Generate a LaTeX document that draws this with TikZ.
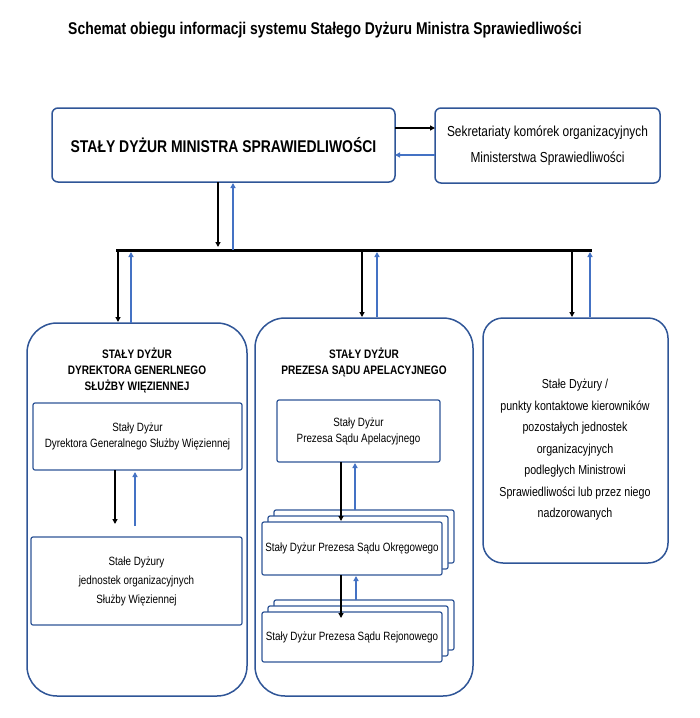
\documentclass[tikz,border=0pt]{standalone}
\usepackage{fontspec}
\setmainfont{Liberation Sans}
\usetikzlibrary{arrows.meta}
\definecolor{bl}{HTML}{2F5597}
\definecolor{ab}{HTML}{4472C4}
\begin{document}
\begin{tikzpicture}[x=1pt,y=-1pt,
 box/.style={draw=bl,line width=1.5pt,fill=white,rounded corners=#1,align=center},
 box/.default=6pt,
 ib/.style={draw=bl,line width=1.2pt,fill=white,rounded corners=2pt,align=center},
 ka/.style={-{Triangle[length=5pt,width=5pt]},line width=1.3pt,black},
 ba/.style={-{Triangle[length=5pt,width=5pt]},line width=1.3pt,ab},
 txt/.style={font=\fontsize{12}{16}\selectfont\addfontfeature{FakeStretch=0.82}},
 tb/.style={font=\bfseries\fontsize{12.3}{16}\selectfont\addfontfeature{FakeStretch=0.82}}]
\useasboundingbox (0,0) rectangle (700,718);
\node[font=\bfseries\fontsize{17}{19}\selectfont\addfontfeature{FakeStretch=0.82}] (title) at (325,30) {Schemat obiegu informacji systemu Stałego Dyżuru Ministra Sprawiedliwości};
% main
\node[box,minimum width=343,minimum height=74,font=\bfseries\fontsize{17}{19}\selectfont\addfontfeature{FakeStretch=0.82}] (main) at (223.5,145) {STAŁY DYŻUR MINISTRA SPRAWIEDLIWOŚCI};
\node[box,minimum width=225,minimum height=75,font=\fontsize{14.5}{26}\selectfont\addfontfeature{FakeStretch=0.82}] (sek) at (547.5,145.5) {Sekretariaty komórek organizacyjnych\\Ministerstwa Sprawiedliwości};
\draw[ka] (395,128) -- (435,128);
\draw[ba] (435,155) -- (395,155);
% bus
\coordinate (busL) at (116,250); \coordinate (busR) at (592,250);
\draw[line width=3pt] (busL) -- (busR);
\draw[ka] (218,182) -- (218,247);
\draw[ba] (233,250) -- (233,183);
% big boxes
\node[box=30pt,minimum width=220,minimum height=373] (L) at (137,509.5) {};
\node[box=30pt,minimum width=218,minimum height=378] (M) at (364,507) {};
\node[box=20pt,minimum width=185,minimum height=245] (R) at (575.5,440.5) {};
\draw[ka] (118,249) -- (118,322);
\draw[ba] (131,323) -- (131,252);
\draw[ka] (362,249) -- (362,317);
\draw[ba] (377,317) -- (377,252);
\draw[ka] (572,249) -- (572,317);
\draw[ba] (590,317) -- (590,252);
% left content
\node[tb,align=center] (Lt) at (137,371) {STAŁY DYŻUR\\DYREKTORA GENERLNEGO\\SŁUŻBY WIĘZIENNEJ};
\node[ib,minimum width=209,minimum height=67,txt] (L1) at (137.5,436.5) {Stały Dyżur\\Dyrektora Generalnego Służby Więziennej};
\node[ib,minimum width=211,minimum height=88,txt,font=\fontsize{12}{19}\selectfont\addfontfeature{FakeStretch=0.82}] (L2) at (136.5,581) {Stałe Dyżury\\jednostek organizacyjnych\\Służby Więziennej};
\draw[ka] (115,470) -- (115,524);
\draw[ba] (135,526) -- (135,472);
% middle content
\node[tb,align=center] (Mt) at (364,362) {STAŁY DYŻUR\\PREZESA SĄDU APELACYJNEGO};
\node[ib,minimum width=163,minimum height=62,txt] (M1) at (358.5,431) {Stały Dyżur\\Prezesa Sądu Apelacyjnego};
\foreach \d in {12,6}{\draw[ib] (262+\d,522-\d) rectangle (442+\d,575-\d);}
\node[ib,minimum width=180,minimum height=53,txt] (M2) at (352,548.5) {Stały Dyżur Prezesa Sądu Okręgowego};
\foreach \d in {12,6}{\draw[ib] (262+\d,612-\d) rectangle (442+\d,662-\d);}
\node[ib,minimum width=180,minimum height=50,txt] (M3) at (352,637) {Stały Dyżur Prezesa Sądu Rejonowego};
\draw[ka] (341,462) -- (341,521);
\draw[ba] (355,510) -- (355,463);
\draw[ka] (341,575) -- (341,618);
\draw[ba] (356,600) -- (356,576);
% right content
\node[align=center,font=\fontsize{13}{21.5}\selectfont\addfontfeature{FakeStretch=0.82}] (Rt) at (575,450) {Stałe Dyżury /\\punkty kontaktowe kierowników\\pozostałych jednostek\\organizacyjnych\\podległych Ministrowi\\Sprawiedliwości lub przez niego\\nadzorowanych};
\end{tikzpicture}
\end{document}
